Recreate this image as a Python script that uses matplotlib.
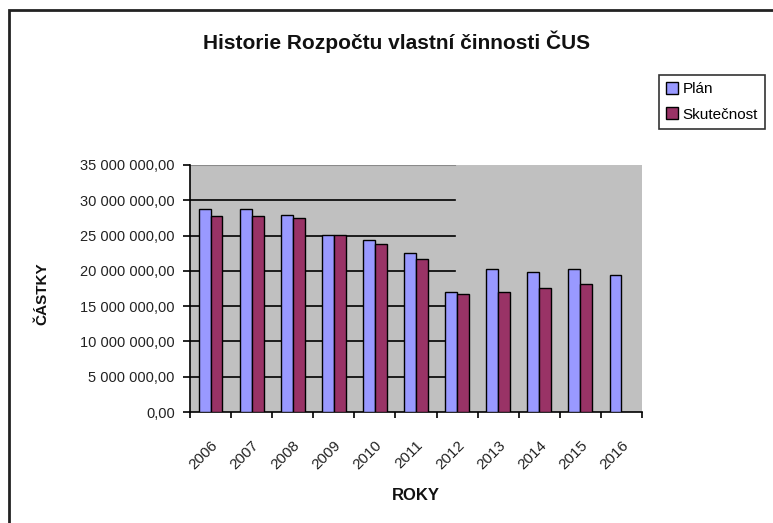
import matplotlib
matplotlib.use("Agg")
import matplotlib.pyplot as plt
import matplotlib.transforms as mtransforms
import numpy as np
from matplotlib.patches import Rectangle

years = ["2006", "2007", "2008", "2009", "2010", "2011", "2012", "2013", "2014", "2015", "2016"]
plan = [28.72e6, 28.72e6, 27.96e6, 25.05e6, 24.33e6, 22.49e6, 16.96e6, 20.22e6, 19.88e6, 20.22e6, 19.37e6]
skutecnost = [27.73e6, 27.73e6, 27.45e6, 25.05e6, 23.76e6, 21.73e6, 16.77e6, 17.0e6, 17.57e6, 18.09e6, np.nan]
ytick_values = [0, 5e6, 10e6, 15e6, 20e6, 25e6, 30e6, 35e6]
ytick_labels = ["0,00", "5 000 000,00", "10 000 000,00", "15 000 000,00", "20 000 000,00",
                "25 000 000,00", "30 000 000,00", "35 000 000,00"]

FONT = ["Liberation Sans Narrow", "Liberation Sans", "DejaVu Sans"]
plt.rcParams['font.family'] = FONT

W, H = 773, 523
fig = plt.figure(figsize=(W / 100, H / 100), dpi=100)
fig.patch.set_facecolor("white")

# outer chart border (extends past right/bottom edges)
fig.patches.append(Rectangle((9 / W, -0.05), 1.2, 1 - 10 / H + 0.05, transform=fig.transFigure,
                             fill=False, edgecolor="#222222", linewidth=2, zorder=0))

ax = fig.add_axes([190 / W, (H - 412) / H, 452 / W, 247 / H])
ax.set_facecolor("#C0C0C0")

x = np.arange(len(years))
bw = 0.29
ax.bar(x - bw / 2, plan, width=bw, color="#9999FF", edgecolor="black", linewidth=1.0, zorder=3, label="Plán")
ax.bar(x + bw / 2, skutecnost, width=bw, color="#993366", edgecolor="black", linewidth=1.0, zorder=3, label="Skutečnost")

ax.set_xlim(-0.5, len(years) - 0.5)
ax.set_ylim(0, 35e6)

for v in ytick_values[1:-1]:
    ax.axhline(v, xmin=0, xmax=0.586, color="black", linewidth=1.2, zorder=1)
ax.axhline(35e6, xmin=0, xmax=0.586, color="#8a8a8a", linewidth=1.5, zorder=1)

for side in ["top", "right"]:
    ax.spines[side].set_visible(False)
ax.spines["left"].set_linewidth(1.2)
ax.spines["bottom"].set_linewidth(1.2)

ax.set_yticks(ytick_values)
ax.set_yticklabels(ytick_labels, fontsize=10.5, color="#222222")
ax.set_xticks(np.arange(-0.5, len(years)), minor=False)
ax.set_xticklabels([])
ax.set_xticks(x, minor=True)
ax.set_xticklabels(years, minor=True, rotation=45, ha="right", va="top", fontsize=11,
                   rotation_mode="anchor", color="#222222")
offset = mtransforms.ScaledTranslation(-5 / 100, 0, fig.dpi_scale_trans)
for lbl in ax.get_xticklabels(minor=True):
    lbl.set_transform(lbl.get_transform() + offset)
ax.tick_params(axis="x", which="minor", length=0, pad=19)
ax.tick_params(axis="x", which="major", length=4, width=1.2, direction="out")
ax.tick_params(axis="y", length=5, width=1.2, direction="out", pad=6)

fig.text(397 / W, 1 - 42 / H, "Historie Rozpočtu vlastní činnosti ČUS", ha="center", va="center",
         fontsize=15, fontweight="bold", color="#111111")
fig.text(416 / W, 1 - 495 / H, "ROKY", ha="center", va="center", fontsize=12, fontweight="bold",
         color="#111111")
fig.text(42 / W, 1 - 294 / H, "ČÁSTKY", ha="center", va="center", rotation=90, fontsize=11,
         fontweight="bold", color="#111111")

leg = fig.legend(loc="upper left", bbox_to_anchor=(659 / W, 1 - 75 / H), frameon=True,
                 fontsize=11, handlelength=0.8, handleheight=0.8, handletextpad=0.3,
                 borderpad=0.45, labelspacing=0.75, fancybox=False, borderaxespad=0)
leg.get_frame().set_edgecolor("black")
leg.get_frame().set_linewidth(1.2)

fig.savefig("out.png", dpi=100)
